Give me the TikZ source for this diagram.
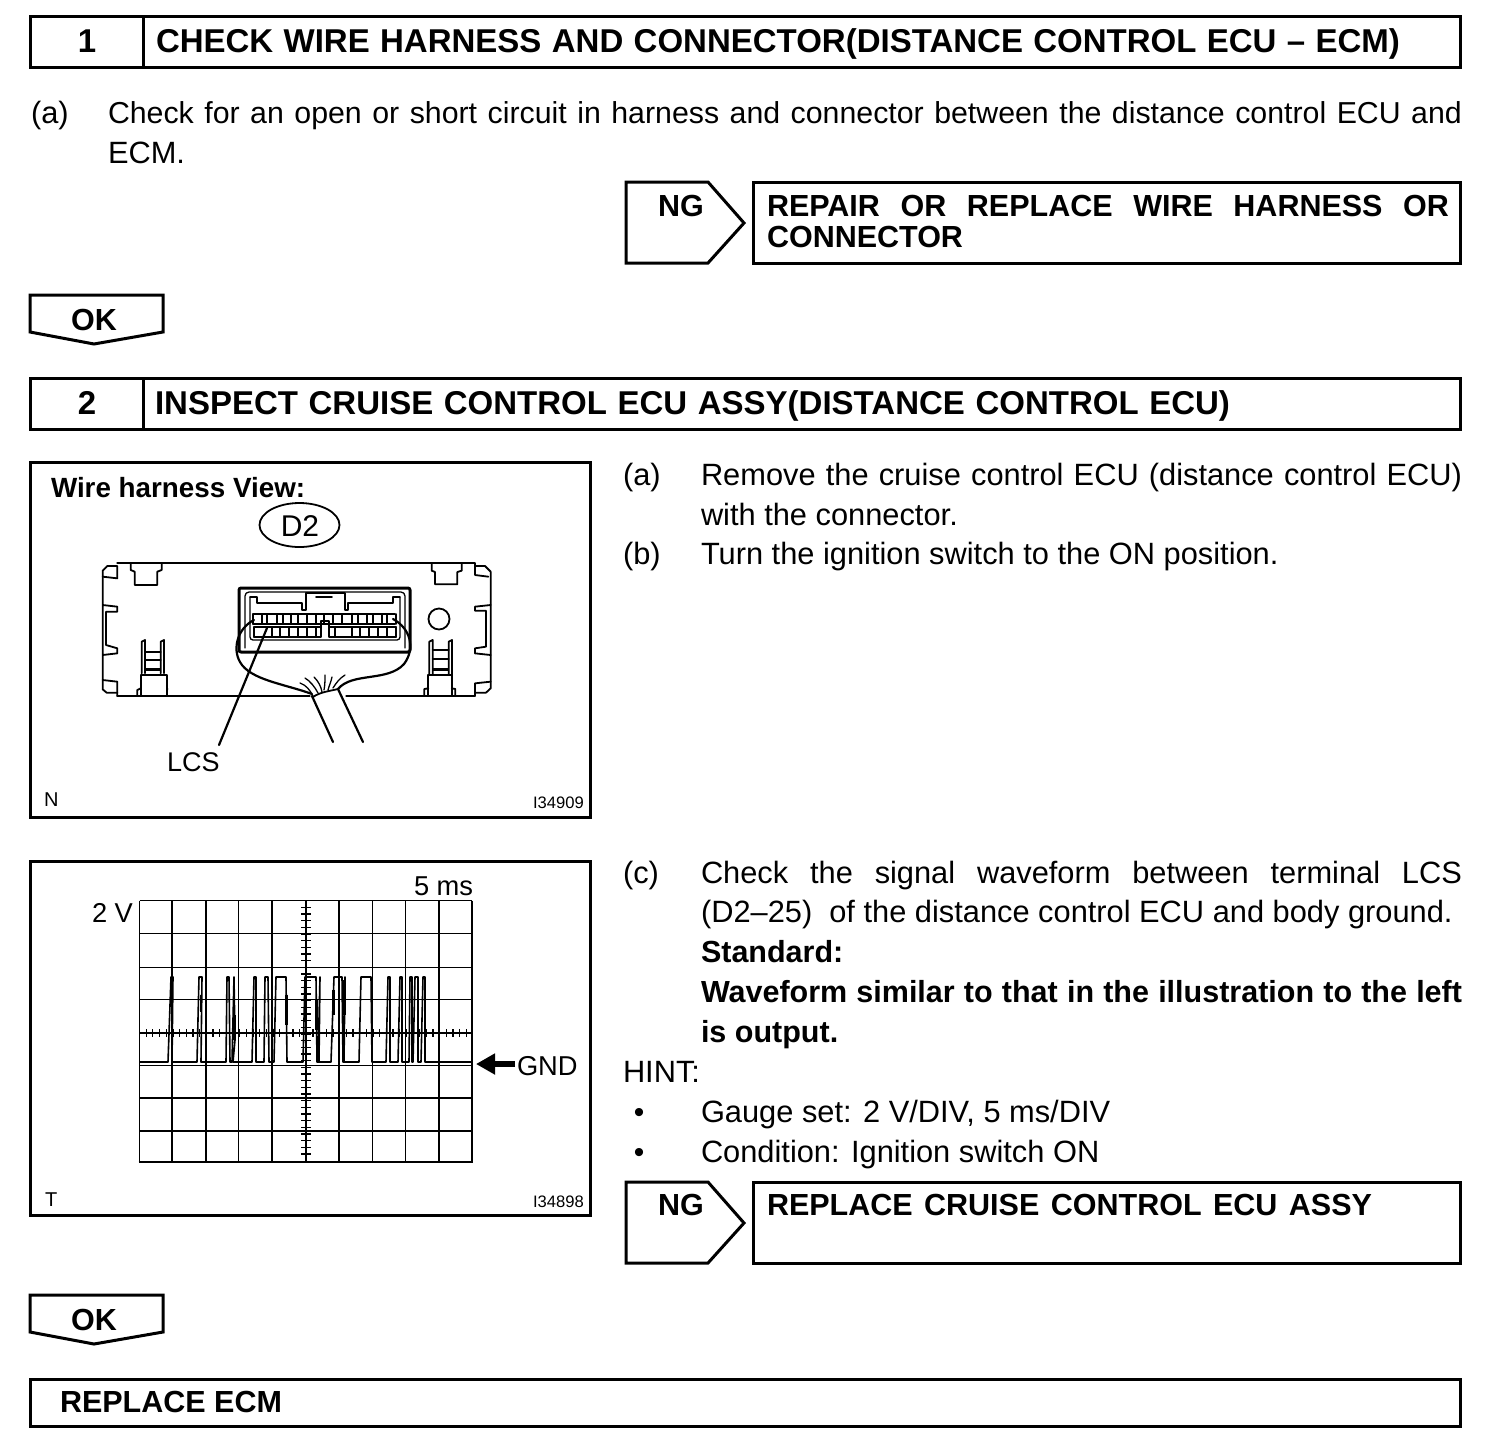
\documentclass[tikz,border=0pt]{standalone}
\usepackage{fontspec}
\setmainfont{Liberation Sans}
\usetikzlibrary{arrows.meta}
\newcommand{\fs}[1]{\fontsize{#1}{#1}\selectfont}
\newcommand{\sline}[2]{\makebox[#1pt][s]{#2}}
\tikzset{
  frame/.style={draw=black,line width=3pt,line join=miter},
  thinl/.style={draw=black,line width=1.3pt,line cap=round,line join=round},
  medl/.style={draw=black,line width=1.8pt,line cap=round,line join=round},
  thickl/.style={draw=black,line width=3pt,line join=round},
  txt/.style={anchor=base west,inner sep=0pt,outer sep=0pt,text=black},
  ctr/.style={anchor=base,inner sep=0pt,outer sep=0pt,text=black},
  body/.style={txt,font=\fs{30.8}},
  boldb/.style={txt,font=\fs{30.5}\bfseries},
  head/.style={txt,font=\fs{33}\bfseries},
  headc/.style={ctr,font=\fs{33}\bfseries},
  ngt/.style={txt,font=\fs{30.5}\bfseries},
  ngc/.style={ctr,font=\fs{30.5}\bfseries},
  tiny/.style={txt,font=\fs{16.6}},
  grid/.style={draw=black,line width=1.3pt},
  trace/.style={draw=black,line width=1.6pt,line join=round}
}
\begin{document}
\begin{tikzpicture}[x=1pt,y=-1pt]
\useasboundingbox (0,0) rectangle (1504,1444);
\fill[white] (0,0) rectangle (1504,1444);
% header boxes
\draw[frame] (30,16) rectangle (1460,67) (143,16) -- (143,67);
\node[headc] (n1) at (87,52.5) {1};
\node[head] (h1) at (156,52.5) {\sline{1244}{CHECK WIRE HARNESS AND CONNECTOR(DISTANCE CONTROL ECU – ECM)}};
\node[body] (a1) at (31,123.5) {(a)};
\node[body,font=\fs{30.3}] (a1t) at (108,123.5) {\sline{1354}{Check for an open or short circuit in harness and connector between the distance control ECU and}};
\node[body] (a1u) at (108,163.5) {ECM.};
% NG 1
\draw[frame] (626,182) -- (708,182) -- (744,223) -- (708,263) -- (626,263) -- cycle;
\node[ngc] (ng1) at (681,216) {NG};
\draw[frame] (753,182) rectangle (1460,263);
\node[ngt] (r1) at (767,216) {\sline{682}{REPAIR OR REPLACE WIRE HARNESS OR}};
\node[ngt] (r1b) at (767,247) {CONNECTOR};
% OK 1
\draw[frame] (30,295) -- (163,295) -- (163,332) -- (94,344) -- (30,332) -- cycle;
\node[ngc] (ok1) at (94,330) {OK};
% header 2
\draw[frame] (30,378) rectangle (1460,429) (143,378) -- (143,429);
\node[headc] (n2) at (87,414) {2};
\node[head] (h2) at (155,414) {\sline{1075}{INSPECT CRUISE CONTROL ECU ASSY(DISTANCE CONTROL ECU)}};
% frame wire harness
\draw[frame] (30,462) rectangle (590,817);
\node[txt,font=\fs{27.8}\bfseries] (wv) at (51,497) {Wire harness View:};
\draw[medl] (299.5,525) ellipse (40 and 22);
\node[ctr,font=\fs{30}] (d2) at (300,536) {D2};
% connector body, left part
\begin{scope}[shift={(30,460)},scale=0.33333]
\draw[medl] (262,318) -- (232,318) -- (218,332) -- (218,350) -- (262,355) -- (262,318);
\draw[medl] (218,350) -- (218,585) (218,435) -- (262,440) -- (262,455) -- (228,455) -- (228,555) -- (262,565) -- (262,580) -- (218,585) -- (218,660);
\draw[medl] (218,660) -- (262,665) -- (262,708);
\draw[medl] (218,660) -- (218,688) -- (230,698) -- (262,698);
\draw[medl] (302,310) -- (302,330) -- (314,335) -- (314,375) -- (382,375) -- (382,335) -- (395,330) -- (395,310);
\draw[medl] (335,640) -- (335,545) -- (345,540) -- (345,640);
\draw[medl] (392,640) -- (392,545) -- (402,540) -- (402,640);
\draw[medl] (345,575) -- (392,575) (345,600) -- (392,600);
\draw[thickl] (345,627) -- (392,627);
\draw[medl] (332,708) -- (332,645) -- (412,645) -- (412,708);
\draw[medl] (322,708) -- (322,690) -- (332,685) (412,685) -- (412,690);
\end{scope}
\draw[thinl] (117,563) -- (475,563);
\draw[thinl] (117,696) -- (310,696);
\draw[thinl] (346,696) -- (475,696);
% connector body, right part
\begin{scope}[shift={(300,540)},scale=0.33333]
\draw[medl] (525,70) -- (525,105) -- (565,110);
\draw[medl] (525,78) -- (555,78) -- (572,95) -- (572,445) -- (558,458) -- (525,458);
\draw[medl] (572,195) -- (525,200) -- (525,212) -- (558,212) -- (558,320) -- (525,325) -- (525,340) -- (572,345);
\draw[medl] (572,425) -- (525,430) -- (525,468);
\draw[medl] (395,70) -- (395,92) -- (405,96) -- (405,133) -- (472,133) -- (472,96) -- (485,92) -- (485,70);
\draw[medl] (388,405) -- (388,305) -- (398,300) -- (398,405);
\draw[medl] (446,405) -- (446,305) -- (456,300) -- (456,405);
\draw[medl] (398,330) -- (446,330) (398,358) -- (446,358);
\draw[thickl] (398,388) -- (446,388);
\draw[medl] (385,468) -- (385,405) -- (455,405) -- (455,468);
\draw[medl] (373,468) -- (373,447) -- (385,445) (455,445) -- (466,447) -- (466,468);
\end{scope}
\draw[medl] (439,619) circle (10.5);
% connector shell
\draw[thickl,rounded corners=2pt] (239,652) -- (239,588) -- (410,588) -- (410,652) -- cycle;
\draw[thinl,rounded corners=4pt] (245,648) -- (245,592) -- (405,592) -- (405,648);
\draw[thinl,rounded corners=3pt] (250,597) -- (250,640) -- (400,640) -- (400,597);
\draw[thinl] (250,597) -- (257,597) -- (257,603) -- (302,603) -- (302,610) -- (306,610) -- (306,593) -- (345,593) -- (345,610) -- (348,610) -- (348,603) -- (393,603) -- (393,597) -- (400,597);
\draw[medl] (316,597) -- (332,597);
% cells
\draw[medl] (253,614) -- (395,614) (253,624) -- (395,624) (254,627) -- (321,627) (329,627) -- (396,627) (254,637) -- (321,637) -- (321,621) -- (329,621) -- (329,637) -- (396,637);
\foreach \xx in {253,262,267,277,283,291,298,307,316,324,333,342,352,358,367,373,382,387,396}
  \draw[medl] (\xx,614) -- (\xx,624);
\foreach \xx in {254,272,280,289,298,307,316,335,352,360,369,378,387,396}
  \draw[medl] (\xx,627) -- (\xx,637);
% wire loop
\draw[medl,line width=2.2pt] (254,620) .. controls (238,628) and (232,648) .. (240,662) .. controls (250,680) and (285,684) .. (312,694);
\draw[medl,line width=2.2pt] (393,619) .. controls (410,628) and (416,648) .. (404,664) .. controls (388,682) and (352,672) .. (338,689);
\draw[medl] (313,697) .. controls (320,692) and (330,691) .. (338,689);
\draw[medl,line width=2.2pt] (312,696) -- (333,742);
\draw[medl,line width=2.2pt] (338,689) -- (363,742);
\begin{scope}[thinl]
\draw (300,683) .. controls (306,685) and (310,690) .. (313,696);
\draw (305,678) .. controls (310,681) and (315,687) .. (318,693);
\draw (314,677) .. controls (318,681) and (321,686) .. (322,692);
\draw (325,675) .. controls (325,680) and (325,685) .. (324,690);
\draw (332,677) .. controls (331,682) and (329,686) .. (328,690);
\draw (345,675) .. controls (340,678) and (336,683) .. (333,688);
\end{scope}
\node[txt,font=\fs{27}] (lcs) at (167,771.5) {LCS};
\coordinate (lcsp) at (267,628);
\draw[medl,line width=2.2pt] (219,745) -- (lcsp);
\node[txt,font=\fs{20}] (fn) at (44,806) {N};
\node[tiny] (i1) at (533,808) {I34909};
% list right column 1
\node[body] (a2) at (623,485) {(a)};
\node[body] (a2t) at (701,485) {\sline{761}{Remove the cruise control ECU (distance control ECU)}};
\node[body] (a2u) at (701,525) {with the connector.};
\node[body] (b2) at (623,564.5) {(b)};
\node[body] (b2t) at (701,564.5) {Turn the ignition switch to the ON position.};
% scope frame
\draw[frame] (30,861) rectangle (590,1215);
\foreach \yy in {900.5,933.5,967.5,999.5,1033,1065.5,1098,1131}
  \draw[grid] (139.5,\yy) -- (472,\yy);
\draw[grid,line width=2pt] (138.5,1162) -- (472.5,1162);
\foreach \xx in {139.5,172,206,238.5,339,372.5,405.5,439,472}
  \draw[grid] (\xx,900.5) -- (\xx,1162);
\draw[grid,line width=2pt] (272,900.5) -- (272,1162);
\draw[grid,line width=2pt] (306,900.5) -- (306,1162);
\foreach \ii in {0,...,49}
  \draw[grid] ({139.5+\ii*6.67},1029) -- ({139.5+\ii*6.67},1037);
\foreach \ii in {1,...,38}
  \draw[grid] (301,{900.5+\ii*6.67}) -- (311,{900.5+\ii*6.67});
% waveform
\draw[trace] (139.5,1062) -- (168,1062) -- (171,977) -- (173,977) -- (172,1062) -- (197,1062) -- (199,977) -- (202,977) -- (201,1062)
 -- (226,1062) -- (227,977) -- (229,977) -- (230,1062) -- (232,1062) -- (234,977) -- (235,1040) -- (233,1062)
 -- (252,1062) -- (254,977) -- (256,977) -- (256,1062) -- (264,1062) -- (265,977) -- (268,977) -- (269,1062) -- (274,1062) -- (276,977) -- (286,977) -- (287,1062)
 -- (303,1062) -- (305,977) -- (316,977) -- (317,1062) -- (319,1062) -- (320,977) -- (318,1062) -- (331,1062) -- (334,977) -- (342,977) -- (343,1062) -- (344,1062) -- (345,977) -- (344,1062)
 -- (359,1062) -- (361,977) -- (371,977) -- (372,1062) -- (386,1062) -- (388,977) -- (390,977) -- (390,1062) -- (398,1062) -- (400,977) -- (402,977) -- (402,1062)
 -- (409,1062) -- (410,977) -- (412,977) -- (412,1062) -- (413,1062) -- (415,977) -- (418,977) -- (418,1062) -- (421,1062) -- (423,977) -- (425,977) -- (425,1062) -- (472,1062);
\foreach \xx/\ya/\yb in {171.8/978/1010,200.8/995/1012,234.5/1015/1040,286.3/995/1025,316.5/1000/1030,333.3/990/1015,344.5/980/1015,402/985/1010,412/980/1020,425/980/1005}
  \draw[draw=black,line width=2.6pt] (\xx,\ya) -- (\xx,\yb);
\node[txt,font=\fs{27.3}] (v2) at (92,922.5) {2 V};
\node[txt,font=\fs{27.3}] (ms) at (414,895.5) {5 ms};
\node[txt,font=\fs{27.3}] (gnd) at (517,1075) {GND};
\coordinate (gndp) at (476,1064);
\draw[line width=6pt,-{Triangle[length=19pt,width=20pt]}] (515,1064) -- (gndp);
\node[txt,font=\fs{20}] (ft) at (45,1206) {T};
\node[tiny] (i2) at (533,1207) {I34898};
% list right column 2
\node[body] (c2) at (623,883.5) {(c)};
\node[body] (c2t) at (701,883.5) {\sline{761}{Check the signal waveform between terminal LCS}};
\node[body] (c2u) at (701,922.5) {(D2–25)\ \ of the distance control ECU and body ground.};
\node[boldb] (st) at (701,962.5) {Standard:};
\node[boldb] (w1) at (701,1002.5) {\sline{761}{Waveform similar to that in the illustration to the left}};
\node[boldb] (w2) at (701,1042.5) {is output.};
\node[body] (hint) at (623,1082.5) {HINT:};
\node[ctr,font=\fs{30}] (bu1) at (639,1122.5) {•};
\node[body] (g1) at (701,1122.5) {Gauge set: 2 V/DIV, 5 ms/DIV};
\node[ctr,font=\fs{30}] (bu2) at (639,1162.5) {•};
\node[body] (g2) at (701,1162.5) {Condition: Ignition switch ON};
% NG 2
\draw[frame] (626,1182) -- (708,1182) -- (744,1223) -- (708,1263) -- (626,1263) -- cycle;
\node[ngc] (ng2) at (681,1215) {NG};
\draw[frame] (753,1182) rectangle (1460,1263);
\node[ngt] (r2) at (767,1215) {\sline{605}{REPLACE CRUISE CONTROL ECU ASSY}};
% OK 2
\draw[frame] (30,1295) -- (163,1295) -- (163,1332) -- (94,1344) -- (30,1332) -- cycle;
\node[ngc] (ok2) at (94,1330) {OK};
% final box
\draw[frame] (30,1379) rectangle (1460,1426);
\node[txt,font=\fs{30.5}\bfseries] (fin) at (60,1412) {REPLACE ECM};
\end{tikzpicture}
\end{document}
